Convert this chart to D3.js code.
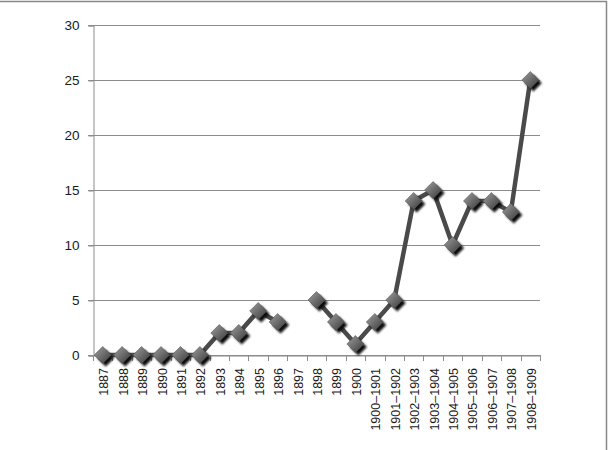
<!DOCTYPE html>
<html><head><meta charset="utf-8">
<script src="https://cdn.jsdelivr.net/npm/d3@7"></script>
<style>body{margin:0;background:#fff}svg{display:block}</style>
</head><body><svg id="c" width="610" height="450"></svg>
<script>
const categories = ["1887","1888","1889","1890","1891","1892","1893","1894","1895","1896","1897","1898","1899","1900","1900–1901","1901–1902","1902–1903","1903–1904","1904–1905","1905–1906","1906–1907","1907–1908","1908–1909"];
const values = [0,0,0,0,0,0,2,2,4,3,null,5,3,1,3,5,14,15,10,14,14,13,25];
const yTicks = [0,5,10,15,20,25,30];

const svg = d3.select("#c");
const m = {l:93, r:540, t:25, b:355};
const x = d3.scaleBand().domain(categories).range([m.l, m.r]);
const y = d3.scaleLinear().domain([0,30]).range([m.b, m.t]);

svg.append("path").attr("d","M0,1.5H606.5V450").attr("fill","none").attr("stroke","#888").attr("stroke-width",1.5);

const defs = svg.append("defs");
const g = defs.append("linearGradient").attr("id","mg").attr("x1","0").attr("y1","0").attr("x2","1").attr("y2","1");
g.append("stop").attr("offset","0").attr("stop-color","#a0a0a0");
g.append("stop").attr("offset","1").attr("stop-color","#383838");
const f = defs.append("filter").attr("id","blur").attr("x","-50%").attr("y","-50%").attr("width","200%").attr("height","200%");
f.append("feGaussianBlur").attr("stdDeviation","0.8");

svg.append("g").selectAll("line").data(yTicks).join("line")
  .attr("x1", m.l-5).attr("x2", m.r).attr("y1", d=>y(d)+0.5).attr("y2", d=>y(d)+0.5)
  .attr("stroke","#8c8c8c").attr("stroke-width",1);

const ya = svg.append("g").attr("transform",`translate(${m.l+0.5},0.5)`)
  .call(d3.axisLeft(y).tickValues(yTicks).tickSize(5).tickPadding(9));
ya.select(".domain").attr("stroke","#8c8c8c");
ya.selectAll(".tick line").attr("stroke","#8c8c8c");
ya.selectAll("text").attr("font-family","Liberation Sans, Arial, sans-serif").attr("font-size",13.5).attr("fill","#1a1a1a");

const xa = svg.append("g").attr("transform",`translate(0,${m.b+0.5})`)
  .call(d3.axisBottom(x).tickSize(0).tickFormat(""));
xa.select(".domain").attr("stroke","#8c8c8c");
const bounds = categories.map(c=>x(c)).concat([m.r]);
svg.append("g").selectAll("line").data(bounds).join("line")
  .attr("x1",d=>Math.round(d)+0.5).attr("x2",d=>Math.round(d)+0.5)
  .attr("y1",m.b).attr("y2",m.b+6).attr("stroke","#8c8c8c");
svg.append("g").selectAll("text").data(categories).join("text")
  .attr("transform", d=>`translate(${x(d)+x.bandwidth()/2+5.5},${m.b+13}) rotate(-90)`)
  .attr("text-anchor","end")
  .attr("font-family","Liberation Sans, Arial, sans-serif").attr("font-size",12.5).attr("fill","#1a1a1a")
  .text(d=>d);

const pts = categories.map((c,i)=>({c, v: values[i]}));
const line = d3.line().defined(d=>d.v!==null).x(d=>x(d.c)+x.bandwidth()/2).y(d=>y(d.v));
svg.append("path").datum(pts).attr("d",line).attr("fill","none")
  .attr("stroke","#4a4a4a").attr("stroke-width",4.5).attr("stroke-linejoin","round");

const s = 8.5;
const dia = `M0,${-s}L${s},0L0,${s}L${-s},0Z`;
const mk = svg.append("g").selectAll("g").data(pts.filter(d=>d.v!==null)).join("g")
  .attr("transform", d=>`translate(${x(d.c)+x.bandwidth()/2},${y(d.v)})`);
mk.append("path").attr("d",dia).attr("transform","translate(3,3)").attr("fill","#0a0a0a").attr("filter","url(#blur)");
mk.append("path").attr("d",dia).attr("fill","url(#mg)").attr("stroke","#555").attr("stroke-width",0.6);
</script></body></html>
